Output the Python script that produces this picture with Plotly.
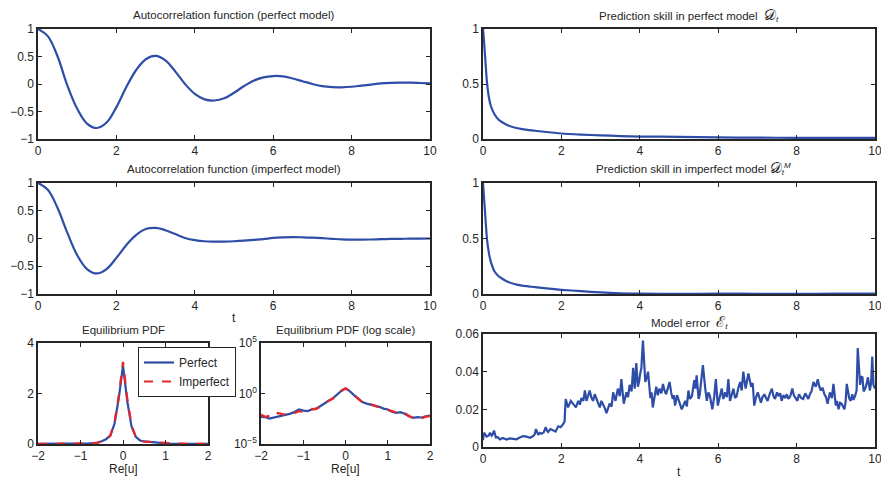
import numpy as np
import plotly.graph_objects as go

# ---------------- data ----------------
acf_t = list(np.linspace(0, 10, 41))
acf_perfect = [1.0, 0.87, 0.5, -0.03, -0.45, -0.72, -0.8, -0.7, -0.42, -0.06, 0.25, 0.45, 0.51,
               0.43, 0.23, 0.0, -0.18, -0.28, -0.3, -0.26, -0.16, -0.04, 0.06, 0.12, 0.145, 0.14,
               0.1, 0.05, 0.0, -0.04, -0.058, -0.06, -0.05, -0.03, -0.01, 0.01, 0.02, 0.025, 0.025,
               0.018, 0.01]
acf_imperfect = [1.0, 0.88, 0.55, 0.1, -0.3, -0.55, -0.63, -0.55, -0.35, -0.12, 0.06, 0.17, 0.19,
                 0.15, 0.08, 0.01, -0.03, -0.05, -0.055, -0.055, -0.05, -0.04, -0.025, -0.01, 0.01,
                 0.02, 0.025, 0.022, 0.015, 0.005, -0.005, -0.015, -0.02, -0.02, -0.018, -0.012,
                 -0.008, -0.005, -0.003, -0.001, 0.0]

skill_t = [0, 0.02, 0.05, 0.1, 0.15, 0.2, 0.3, 0.4, 0.5, 0.6, 0.8, 1.0, 1.25, 1.5, 2, 2.5, 3,
           3.5, 4, 5, 6, 7, 8, 9, 10]
skill_perfect = [1.0, 0.92, 0.77, 0.52, 0.38, 0.3, 0.22, 0.175, 0.15, 0.13, 0.105, 0.09, 0.078,
                 0.068, 0.05, 0.04, 0.033, 0.027, 0.022, 0.02, 0.014, 0.012, 0.011, 0.011, 0.01]
skill_imperfect = [1.0, 0.9, 0.75, 0.5, 0.37, 0.29, 0.2, 0.16, 0.135, 0.115, 0.09, 0.075, 0.065,
                   0.055, 0.038, 0.025, 0.014, 0.006, 0.003, 0.002, 0.003, 0.002, 0.002, 0.003,
                   0.003]

pdf_u = list(np.round(np.linspace(-2, 2, 41), 2))
pdf_perfect = [0.0048, 0.0045, 0.0033, 0.0042, 0.0056, 0.0065, 0.0081, 0.0102, 0.016, 0.026,
               0.020, 0.018, 0.026, 0.032, 0.055, 0.11, 0.19, 0.33, 0.8, 1.8, 3.1, 1.7, 0.7,
               0.28, 0.14, 0.10, 0.08, 0.065, 0.048, 0.032, 0.026, 0.016, 0.012, 0.014, 0.010,
               0.0056, 0.0038, 0.0045, 0.0042, 0.0056, 0.0065]
pdf_imperfect = [0.008, 0.005, 0.006, 0.0045, 0.012, 0.009, 0.0085, 0.013, 0.012, 0.018, 0.016,
                 0.022, 0.03, 0.028, 0.05, 0.11, 0.18, 0.32, 0.85, 1.9, 3.25, 1.8, 0.75, 0.28,
                 0.13, 0.095, 0.085, 0.06, 0.042, 0.035, 0.024, 0.018, 0.013, 0.01, 0.012, 0.006,
                 0.004, 0.0045, 0.0036, 0.005, 0.0058]

err_t = [0, 0.025, 0.05, 0.09, 0.14, 0.18, 0.22, 0.25, 0.28, 0.305,
         0.33, 0.38, 0.43, 0.5, 0.6, 0.68, 0.77, 0.85, 0.94, 1.02,
         1.11, 1.2, 1.28, 1.32, 1.35, 1.38, 1.41, 1.45, 1.49, 1.55,
         1.6, 1.63, 1.66, 1.72, 1.79, 1.85, 1.92, 1.98, 2.04, 2.08,
         2.11, 2.14, 2.17, 2.24, 2.3, 2.37, 2.43, 2.47, 2.51, 2.56,
         2.6, 2.64, 2.68, 2.72, 2.77, 2.81, 2.85, 2.89, 2.94, 2.98,
         3.02, 3.06, 3.11, 3.15, 3.19, 3.23, 3.28, 3.32, 3.38, 3.44,
         3.49, 3.53, 3.59, 3.63, 3.66, 3.7, 3.74, 3.79, 3.83, 3.87,
         3.91, 3.95, 3.98, 4.01, 4.04, 4.08, 4.14, 4.18, 4.21, 4.27,
         4.3, 4.33, 4.38, 4.42, 4.46, 4.5, 4.55, 4.59, 4.63, 4.67,
         4.72, 4.76, 4.8, 4.84, 4.87, 4.9, 4.95, 4.99, 5.03, 5.07,
         5.12, 5.16, 5.2, 5.24, 5.28, 5.33, 5.39, 5.42, 5.45, 5.5,
         5.53, 5.56, 5.61, 5.67, 5.71, 5.75, 5.79, 5.82, 5.85, 5.9,
         5.94, 5.99, 6.04, 6.09, 6.13, 6.18, 6.22, 6.26, 6.3, 6.35,
         6.39, 6.43, 6.47, 6.51, 6.56, 6.6, 6.64, 6.7, 6.77, 6.84,
         6.88, 6.92, 6.96, 7.01, 7.05, 7.09, 7.13, 7.18, 7.22, 7.26,
         7.32, 7.37, 7.41, 7.45, 7.5, 7.54, 7.58, 7.62, 7.66, 7.71,
         7.75, 7.79, 7.84, 7.89, 7.93, 7.98, 8.02, 8.06, 8.12, 8.17,
         8.22, 8.26, 8.3, 8.34, 8.38, 8.43, 8.49, 8.54, 8.58, 8.62,
         8.66, 8.71, 8.75, 8.79, 8.85, 8.9, 8.94, 9.0, 9.03, 9.07,
         9.11, 9.15, 9.18, 9.22, 9.25, 9.28, 9.34, 9.38, 9.42, 9.45,
         9.49, 9.53, 9.56, 9.62, 9.65, 9.68, 9.71, 9.75, 9.78, 9.82,
         9.87, 9.9, 9.93, 9.96, 10.0]
err_vals = [.0036, .0075, .007, .0055, .006, .0075, .006, .0068, .0087, .0058,
            .005, .0052, .004, .0048, .004, .0046, .0045, .0041, .005, .0058,
            .0055, .0049, .0058, .0068, .0095, .0072, .0064, .0075, .007, .0078,
            .0105, .0088, .008, .0095, .009, .0082, .011, .0105, .012, .0135,
            .0255, .0225, .021, .0245, .023, .021, .0245, .0225, .026, .0245,
            .030, .0245, .027, .030, .026, .0245, .028, .0255, .0235, .021,
            .0245, .023, .0205, .018, .0205, .023, .0215, .029, .0245, .031,
            .027, .036, .023, .027, .029, .0265, .033, .0295, .042, .031,
            .0445, .032, .0345, .039, .042, .0565, .0345, .037, .040, .026,
            .029, .021, .028, .032, .0275, .031, .0285, .0335, .03, .028,
            .0315, .0345, .029, .0255, .0275, .022, .0275, .0255, .0225, .020,
            .023, .0245, .0215, .030, .0255, .027, .0355, .031, .038, .0255,
            .028, .033, .0435, .031, .0245, .029, .027, .0235, .020, .027,
            .036, .022, .027, .031, .0255, .029, .0265, .036, .0245, .0275,
            .031, .026, .027, .031, .0345, .03, .040, .031, .039, .032,
            .034, .022, .026, .029, .0255, .0235, .0265, .028, .026, .0245,
            .0285, .031, .027, .0255, .029, .027, .0285, .0245, .0275, .026,
            .028, .0255, .027, .031, .0275, .026, .0245, .028, .026, .0255,
            .0285, .027, .0255, .028, .0295, .0345, .032, .036, .032, .030,
            .0315, .028, .0265, .023, .029, .026, .0335, .022, .0245, .020,
            .0235, .023, .0215, .020, .024, .0335, .026, .0245, .028, .025,
            .027, .030, .0525, .033, .0375, .037, .0295, .031, .033, .037,
            .030, .034, .048, .033, .031]

MS = '<span style="font-size:15px">{}</span>'
titles = ["Autocorrelation function (perfect model)",
          "Prediction skill in perfect model  " + MS.format("𝒟") + "<sub><i>t</i></sub>",
          "Autocorrelation function (imperfect model)",
          "Prediction skill in imperfect model " + MS.format("𝒟") + "<sub><i>t</i></sub><sup><i>M</i></sup>",
          "Equilibrium PDF",
          "Equilibrium PDF (log scale)",
          "Model error  " + MS.format("ℰ") + "<sub><i>t</i></sub>"]

# ---------------- style ----------------
W, H = 881, 478
BLUE = "#2E4DA7"
RED = "#E5262B"
INK = "#262626"
FONT = "Liberation Sans, Arial, Helvetica, sans-serif"


def fx(px):
    return px / W


def fy(py):
    return 1 - py / H


# panel boxes in pixels: (left, right, top, bottom)
boxes = [
    (38, 430, 29, 139),
    (483, 875, 29, 139),
    (38, 430, 183, 294),
    (483, 875, 183, 294),
    (38, 208, 343, 444),
    (261, 430, 343, 444),
    (483, 875, 334, 447),
]

fig = go.Figure()

line_w = 2.2
fig.add_trace(go.Scatter(x=acf_t, y=acf_perfect, mode="lines", line=dict(color=BLUE, width=line_w, shape="spline"),
                         xaxis="x", yaxis="y", showlegend=False))
fig.add_trace(go.Scatter(x=skill_t, y=skill_perfect, mode="lines", line=dict(color=BLUE, width=line_w, shape="spline", smoothing=0.6),
                         xaxis="x2", yaxis="y2", showlegend=False))
fig.add_trace(go.Scatter(x=acf_t, y=acf_imperfect, mode="lines", line=dict(color=BLUE, width=line_w, shape="spline"),
                         xaxis="x3", yaxis="y3", showlegend=False))
fig.add_trace(go.Scatter(x=skill_t, y=skill_imperfect, mode="lines", line=dict(color=BLUE, width=line_w, shape="spline", smoothing=0.6),
                         xaxis="x4", yaxis="y4", showlegend=False))
fig.add_trace(go.Scatter(x=pdf_u, y=pdf_perfect, mode="lines", name="Perfect",
                         line=dict(color=BLUE, width=line_w), xaxis="x5", yaxis="y5"))
fig.add_trace(go.Scatter(x=pdf_u, y=pdf_imperfect, mode="lines", name="Imperfect",
                         line=dict(color=RED, width=line_w, dash="dash"), xaxis="x5", yaxis="y5"))
fig.add_trace(go.Scatter(x=pdf_u, y=pdf_perfect, mode="lines", line=dict(color=BLUE, width=line_w),
                         xaxis="x6", yaxis="y6", showlegend=False))
fig.add_trace(go.Scatter(x=pdf_u, y=pdf_imperfect, mode="lines", line=dict(color=RED, width=line_w, dash="dash"),
                         xaxis="x6", yaxis="y6", showlegend=False))
fig.add_trace(go.Scatter(x=err_t, y=err_vals, mode="lines", line=dict(color=BLUE, width=line_w),
                         xaxis="x7", yaxis="y7", showlegend=False))

base = dict(showline=True, linecolor=INK, linewidth=1.5, mirror="ticks", ticks="inside",
            ticklen=4, tickwidth=1, tickcolor=INK, showgrid=False, zeroline=False,
            tickfont=dict(family=FONT, size=12, color=INK), fixedrange=True, automargin=False,
            ticklabeloverflow="allow")

xranges = [[0, 10]] * 4 + [[-2, 2], [-2, 2], [0, 10]]
xticks = [[0, 2, 4, 6, 8, 10]] * 4 + [[-2, -1, 0, 1, 2]] * 2 + [[0, 2, 4, 6, 8, 10]]
yranges = [[-1, 1], [0, 1], [-1, 1], [0, 1], [0, 4], [-5, 5], [0, 0.06]]
yticks = [[-1, -0.5, 0, 0.5, 1], [0, 0.5, 1], [-1, -0.5, 0, 0.5, 1], [0, 0.5, 1],
          [0, 2, 4], None, [0, 0.02, 0.04, 0.06]]

layout = {}
for i, (l, r, t, b) in enumerate(boxes):
    n = "" if i == 0 else str(i + 1)
    xa = dict(base, domain=[fx(l), fx(r)], range=xranges[i], tickvals=xticks[i],
              anchor="y" + n)
    ya = dict(base, domain=[fy(b), fy(t)], range=yranges[i], anchor="x" + n)
    if i == 5:
        ya.update(type="log", tickvals=[1e-5, 1, 1e5],
                  ticktext=["10<sup>−5</sup>", "10<sup>0</sup>", "10<sup>5</sup>"])
    else:
        ya.update(tickvals=yticks[i])
    layout["xaxis" + n] = xa
    layout["yaxis" + n] = ya

annotations = []
title_pos = [(234, 15), (689, 15), (234, 169), (693, 168), (123, 330), (345, 330), (689, 322)]
for i in range(len(boxes)):
    px, py = title_pos[i]
    annotations.append(dict(text=titles[i], x=fx(px), y=fy(py), xref="paper",
                            yref="paper", xanchor="center", yanchor="middle", showarrow=False,
                            font=dict(family=FONT, size=11.5, color=INK)))
for txt, px, py in [("t", 234, 318), ("Re[u]", 123, 469), ("Re[u]", 345, 469), ("t", 679, 472)]:
    annotations.append(dict(text=txt, x=fx(px), y=fy(py), xref="paper", yref="paper",
                            xanchor="center", yanchor="middle", showarrow=False,
                            font=dict(family=FONT, size=12, color=INK)))

fig.update_layout(
    **layout,
    width=W, height=H,
    margin=dict(l=0, r=0, t=0, b=0, autoexpand=False),
    paper_bgcolor="white", plot_bgcolor="white",
    annotations=annotations,
    showlegend=True,
    legend=dict(x=fx(138), y=fy(347), xanchor="left", yanchor="top", bgcolor="white",
                bordercolor=INK, borderwidth=1, font=dict(family=FONT, size=12, color=INK),
                tracegroupgap=0, itemwidth=30),
)

fig.write_html("out.html")
